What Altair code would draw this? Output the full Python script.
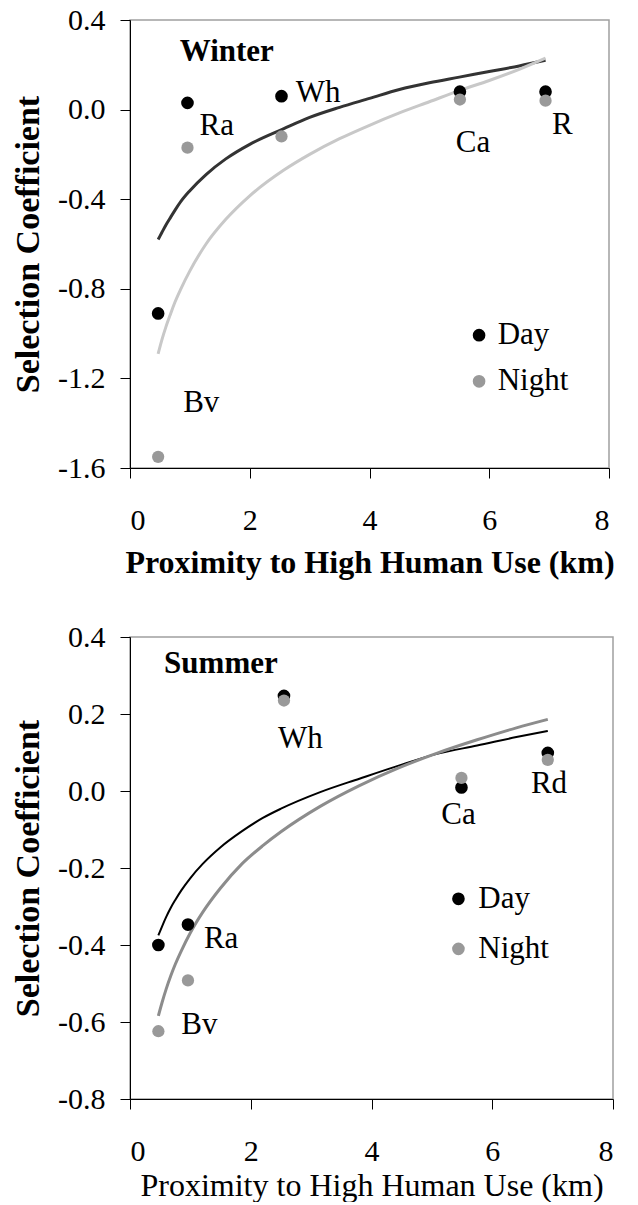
import altair as alt
import pandas as pd

FONT = "Liberation Serif"

# ---------------- Winter data ----------------
w_sites = ["Bv", "Ra", "Wh", "Ca", "R"]
w_x = [0.47, 0.96, 2.53, 5.51, 6.94]
w_day = [-0.91, 0.03, 0.06, 0.08, 0.08]
w_night = [-1.55, -0.17, -0.12, 0.045, 0.04]

w_curve_x = [0.47, 0.53, 0.6, 0.68, 0.75, 0.85, 1.0, 1.27, 1.6, 2.0, 2.57, 3.0, 3.5, 4.0, 4.5, 5.0, 5.5, 6.0, 6.5, 6.94]
w_curve_day = [-0.58, -0.55, -0.515, -0.48, -0.45, -0.41, -0.362, -0.29, -0.22, -0.155, -0.085, -0.035, 0.01, 0.05, 0.09, 0.12, 0.145, 0.17, 0.195, 0.22]
w_curve_night = [-1.09, -1.03, -0.97, -0.91, -0.86, -0.80, -0.72, -0.60, -0.49, -0.385, -0.27, -0.20, -0.13, -0.07, -0.015, 0.035, 0.085, 0.13, 0.18, 0.23]

w_lab_text = ["Ra", "Wh", "Ca", "R", "Bv"]
w_lab_x = [1.45, 3.14, 5.73, 7.22, 1.19]
w_lab_y = [-0.072, 0.072, -0.148, -0.067, -1.312]

# ---------------- Summer data ----------------
s_sites = ["Bv", "Ra", "Wh", "Ca", "Rd"]
s_x = [0.47, 0.96, 2.55, 5.49, 6.92]
s_day = [-0.40, -0.347, 0.247, 0.009, 0.099]
s_night = [-0.624, -0.492, 0.235, 0.034, 0.081]

s_curve_x = [0.47, 0.53, 0.6, 0.68, 0.75, 0.85, 1.0, 1.2, 1.5, 1.85, 2.2, 2.5, 3.15, 3.8, 4.45, 5.1, 5.75, 6.4, 6.92]
s_curve_day = [-0.375, -0.352, -0.327, -0.302, -0.283, -0.258, -0.226, -0.19, -0.146, -0.105, -0.07, -0.046, -0.003, 0.032, 0.066, 0.097, 0.118, 0.14, 0.156]
s_curve_night = [-0.584, -0.55, -0.514, -0.478, -0.45, -0.415, -0.368, -0.316, -0.252, -0.19, -0.142, -0.106, -0.04, 0.014, 0.06, 0.099, 0.133, 0.164, 0.186]

s_lab_text = ["Wh", "Ca", "Rd", "Ra", "Bv"]
s_lab_x = [2.82, 5.44, 6.94, 1.51, 1.15]
s_lab_y = [0.134, -0.063, 0.017, -0.385, -0.609]

legend_names = ["Day", "Night"]
x_ticks = [0, 2, 4, 6, 8]
w_y_ticks = [0.4, 0.0, -0.4, -0.8, -1.2, -1.6]
s_y_ticks = [0.4, 0.2, 0.0, -0.2, -0.4, -0.6, -0.8]


def panel(title, title_xy, sites, px, pday, pnight, cx, cday, cnight,
          lab_text, lab_x, lab_y, leg_x, leg_tx, leg_y, yticks, ydomain,
          w, h, day_line_color, night_line_color, day_line_w, night_line_w,
          xtitle_weight, xtitle_pad):
    xs = alt.Scale(domain=[0, 8], nice=False)
    ys = alt.Scale(domain=ydomain, nice=False)
    xax = alt.Axis(values=x_ticks, format="d", grid=False, tickSize=10,
                   labelPadding=27, labelFontSize=30, labelFont=FONT,
                   titleFont=FONT, titleFontSize=32, titleFontWeight=xtitle_weight,
                   titlePadding=xtitle_pad, domainColor="black", tickColor="black",
                   labelColor="black", titleColor="black",
                   title="Proximity to High Human Use (km)")
    yax = alt.Axis(values=yticks, grid=False, tickSize=10, labelPadding=15,
                   labelExpr="replace(format(datum.value, '.1f'), '\u2212', '-')",
                   labelFontSize=30, labelFont=FONT, titleFont=FONT, titleFontSize=34,
                   titleFontWeight="bold", titlePadding=12, domainColor="black",
                   tickColor="black", labelColor="black", titleColor="black",
                   title="Selection Coefficient")
    X = alt.X("x:Q", scale=xs, axis=xax)
    Y = alt.Y("y:Q", scale=ys, axis=yax)

    cdf_day = pd.DataFrame({"x": cx, "y": cday})
    cdf_night = pd.DataFrame({"x": cx, "y": cnight})
    pdf_day = pd.DataFrame({"x": px, "y": pday, "site": sites})
    pdf_night = pd.DataFrame({"x": px, "y": pnight, "site": sites})
    ldf = pd.DataFrame({"x": lab_x, "y": lab_y, "t": lab_text})
    tdf = pd.DataFrame({"x": [title_xy[0]], "y": [title_xy[1]], "t": [title]})
    legp = pd.DataFrame({"x": [leg_x, leg_x], "y": leg_y, "t": legend_names})
    legt = pd.DataFrame({"x": [leg_tx, leg_tx], "y": leg_y, "t": legend_names})

    l1 = alt.Chart(cdf_day).mark_line(color=day_line_color, strokeWidth=day_line_w,
                                      interpolate="monotone", clip=True).encode(x=X, y=Y)
    l2 = alt.Chart(cdf_night).mark_line(color=night_line_color, strokeWidth=night_line_w,
                                        interpolate="monotone", clip=True).encode(x=X, y=Y)
    p1 = alt.Chart(pdf_day).mark_circle(color="black", size=160, opacity=1).encode(x=X, y=Y)
    p2 = alt.Chart(pdf_night).mark_circle(color="#999999", size=150, opacity=1).encode(x=X, y=Y)
    tx = alt.Chart(ldf).mark_text(font=FONT, fontSize=31, align="center",
                                  baseline="middle", color="black").encode(x=X, y=Y, text="t:N")
    tt = alt.Chart(tdf).mark_text(font=FONT, fontSize=31, fontWeight="bold", align="left",
                                  baseline="middle", color="black").encode(x=X, y=Y, text="t:N")
    lp = alt.Chart(legp).mark_circle(size=160, opacity=1).encode(
        x=X, y=Y,
        color=alt.Color("t:N", scale=alt.Scale(domain=legend_names, range=["black", "#999999"]),
                        legend=None))
    lt = alt.Chart(legt).mark_text(font=FONT, fontSize=31, align="left", baseline="middle",
                                   color="black").encode(x=X, y=Y, text="t:N")
    return alt.layer(l1, l2, p1, p2, tx, tt, lp, lt).properties(width=w, height=h)


top = panel("Winter", (0.83, 0.256), w_sites, w_x, w_day, w_night,
            w_curve_x, w_curve_day, w_curve_night,
            w_lab_text, w_lab_x, w_lab_y, 5.83, 6.14, [-1.007, -1.213],
            w_y_ticks, [-1.6, 0.4], 479, 448, "#333333", "#c8c8c8", 3, 3,
            "bold", 12)

bottom = panel("Summer", (0.565, 0.329), s_sites, s_x, s_day, s_night,
               s_curve_x, s_curve_day, s_curve_night,
               s_lab_text, s_lab_x, s_lab_y, 5.44, 5.77, [-0.28, -0.41],
               s_y_ticks, [-0.8, 0.4], 483, 462, "black", "#8c8c8c", 2, 3,
               "normal", 4)

chart = alt.vconcat(top, bottom, spacing=42).properties(
    padding={"left": 2, "top": -4, "right": 0, "bottom": 0},
    background="white",
).resolve_scale(color="independent").configure_view(stroke="#a0a0a0", strokeWidth=1.5)

chart.save("out.html", embed_options={"renderer": "svg", "actions": False})
